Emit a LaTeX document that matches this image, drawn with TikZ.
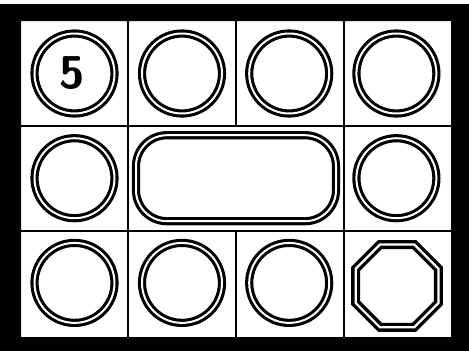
\documentclass[tikz,border=0pt]{standalone}
\usepackage{tikz}
\usetikzlibrary{shapes.geometric, positioning}

\begin{document}
\begin{tikzpicture}[
            x=1pt, y=-1pt,
            % gaps between the rings, so the centres sit on the cells
            node distance={24.7pt and 27.2pt},
            ring/.style={
                draw, circle,
                line width=3.1pt,
                double=white, double distance=2pt,
                minimum size=80pt,
                inner sep=0pt, outer sep=0pt,
                font=\sffamily\bfseries\fontsize{46}{46}\selectfont
            },
            oval/.style={
                draw, rectangle, rounded corners=31pt,
                line width=3.1pt,
                double=white, double distance=2pt,
                minimum width=200pt, minimum height=86pt,
                inner sep=0pt, outer sep=0pt
            },
            octa/.style={
                draw, regular polygon, regular polygon sides=8,
                line width=3.4pt,
                double=white, double distance=2.2pt,
                minimum size=89.6pt,
                inner sep=0pt, outer sep=0pt
            },
            gridline/.style={line width=2.6pt}
        ]
        \useasboundingbox (0,0) rectangle (469,351);

        % Frame
        \fill[even odd rule] (0,4) rectangle (469,351) (21,21) rectangle (451,337);

        % Cell lines
        \draw[gridline] (21,126) -- (451,126);
        \draw[gridline] (21,231) -- (451,231);
        \draw[gridline] (128,21) -- (128,337);
        \draw[gridline] (344,21) -- (344,337);
        \draw[gridline] (236,21) -- (236,126);
        \draw[gridline] (236,231) -- (236,337);

        % Top row
        \node[ring] (c11) at (74.5,73.5) {\kern-4pt5};
        \node[ring, right=27.5pt of c11] (c12) {};
        \node[ring, right=of c12] (c13) {};
        \node[ring, right=of c13] (c14) {};

        % Middle row
        \node[ring, below=of c11] (c21) {};
        \node[oval, right=21.5pt of c21] (c22) {};
        \node[ring, below=of c14] (c24) {};

        % Bottom row
        \node[ring, below=of c21] (c31) {};
        \node[ring, right=27.5pt of c31] (c32) {};
        \node[ring, right=of c32] (c33) {};
        \node[octa, right=26.5pt of c33, yshift=-3pt] (c34) {};

\end{tikzpicture}
\end{document}
